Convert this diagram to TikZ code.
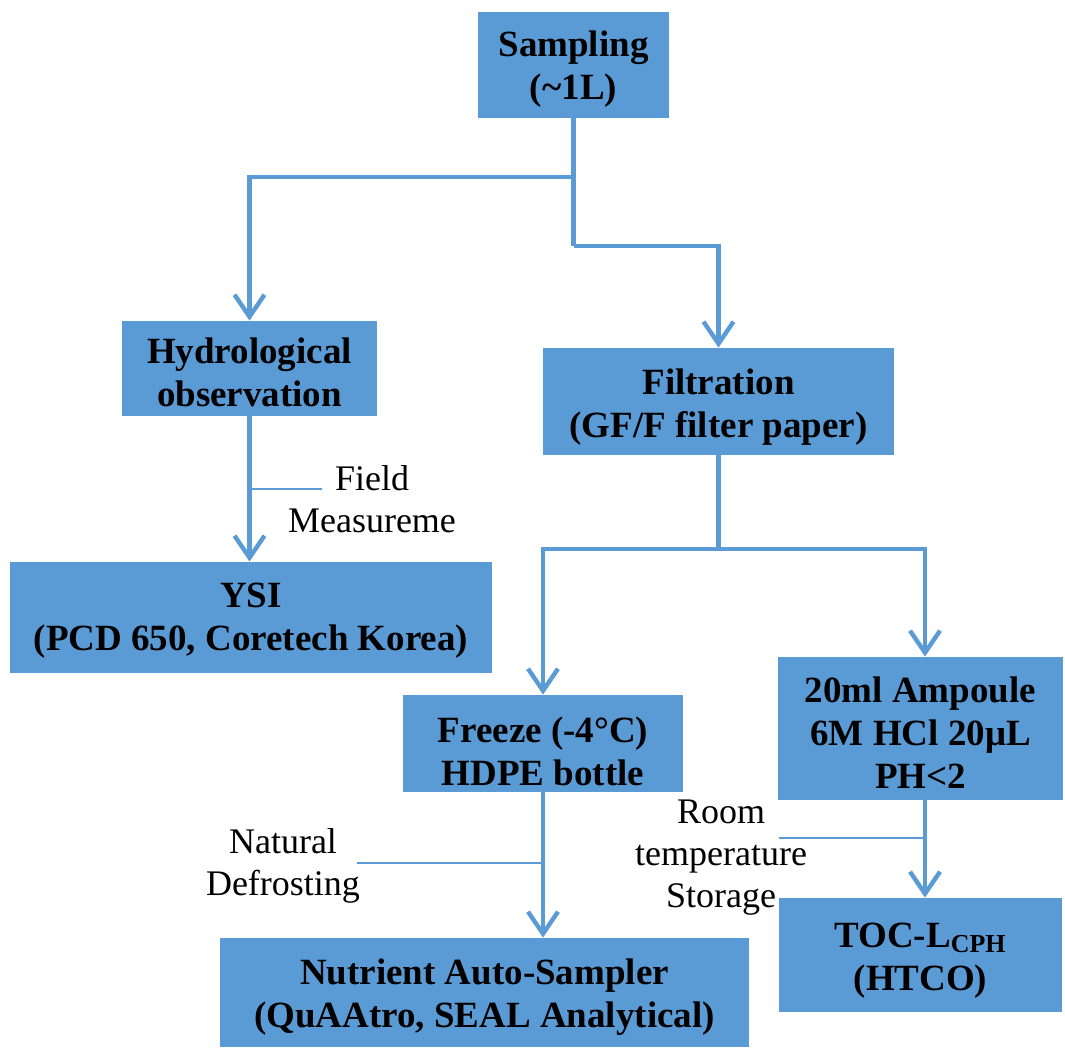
\documentclass[tikz,border=0pt]{standalone}
\usepackage{fontspec}
\setmainfont{Liberation Serif}
\usetikzlibrary{arrows.meta}
\definecolor{boxblue}{HTML}{5B9BD5}

\begin{document}
\begin{tikzpicture}[x=0.5pt,y=-0.5pt,
	box/.style={fill=boxblue,inner sep=0pt,align=center,font=\fontsize{18.5}{21.5}\selectfont\bfseries,text depth=0pt,text height=#1},
	note/.style={inner sep=0pt,align=center,font=\fontsize{18}{21}\selectfont},
	link/.style={draw=boxblue,line width=2.2pt},
	arr/.style={link,-{Straight Barb[length=11pt,width=15pt]}},
	tick/.style={draw=boxblue,line width=0.8pt}]
						\useasboundingbox (0,0) rectangle (1065,1048);
						\node[box=35pt,minimum width=95.5pt,minimum height=53pt] (samp) at (573.5,65) {Sampling\\(\textasciitilde1L)};
						\node[box=37.5pt,minimum width=127.5pt,minimum height=47.5pt] (hydro) at (249.5,368.5) {Hydrological\\observation};
						\node[box=32.5pt,minimum width=241pt,minimum height=55.5pt] (ysi) at (251,617.5) {YSI\\(PCD 650, Coretech Korea)};
						\node[box=35.5pt,minimum width=175.5pt,minimum height=53.5pt] (filt) at (718.5,401.5) {Filtration\\(GF/F filter paper)};
						\node[box=41.5pt,minimum width=140pt,minimum height=48.5pt] (frz) at (543,743.5) {Freeze (-4°C)\\HDPE bottle};
						\node[box=34.5pt,minimum width=264.5pt,minimum height=54.5pt] (nut) at (484.5,992.5) {Nutrient Auto-Sampler\\(QuAAtro, SEAL Analytical)};
						\node[box=59.5pt,minimum width=142.5pt,minimum height=71.5pt] (amp) at (920.5,728.5) {20ml Ampoule\\6M HCl 20μL\\PH<2};
						\node[box=35pt,minimum width=141.5pt,minimum height=57pt] (toc) at (920.5,955) {TOC-L\textsubscript{CPH}\\(HTCO)};
						\node[note] (field) at (372,499.5) {Field\\Measureme};
						\node[note] (defrost) at (283,866) {Natural\\Defrosting};
						\node[note] (room) at (721,857.5) {Room\\temperature\\Storage};
						\coordinate (s1) at (573.5,177);
						\coordinate (s2) at (573.5,246);
						\coordinate (f1) at (718.5,549);
						\coordinate (fm1) at (249.5,489);
						\coordinate (fm2) at (322,489);
						\coordinate (nd1) at (543,863);
						\coordinate (nd2) at (357,863);
						\coordinate (rt1) at (925,838);
						\coordinate (rt2) at (779,838);
						\draw[link] (samp.south) -- (s2);
						\draw[arr] (s1) -| (hydro.north);
						\draw[arr] (s2) -| (filt.north);
						\draw[arr] (hydro.south) -- (hydro.south |- ysi.north);
						\draw[link] (filt.south) -- (f1);
						\draw[arr] (f1) -| (frz.north);
						\draw[arr] (f1) -| ([xshift=2.25pt]amp.north);
						\draw[arr] (frz.south) -- (frz.south |- nut.north);
						\draw[arr] ([xshift=2.25pt]amp.south) -- ([xshift=2.25pt]amp.south |- toc.north);
						\draw[tick] (fm1) -- (fm2);
						\draw[tick] (nd1) -- (nd2);
						\draw[tick] (rt1) -- (rt2);
					\end{tikzpicture}
\end{document}
